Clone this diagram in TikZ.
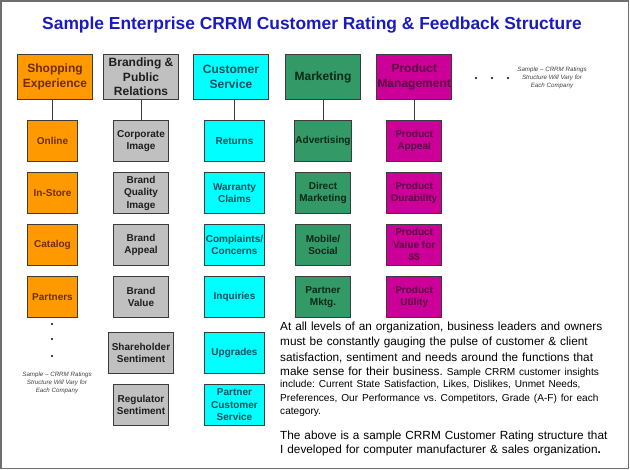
\documentclass[tikz,border=0pt]{standalone}
\usepackage{fontspec}
\setmainfont{Liberation Sans}
\usetikzlibrary{positioning}
\definecolor{titleblue}{RGB}{26,26,196}
\definecolor{edge}{RGB}{60,60,60}
\definecolor{framegray}{RGB}{110,110,110}
\definecolor{shopfill}{RGB}{255,153,0}
\definecolor{shoptext}{RGB}{110,45,0}
\definecolor{brandfill}{RGB}{192,192,192}
\definecolor{brandtext}{RGB}{30,30,30}
\definecolor{servfill}{RGB}{0,255,255}
\definecolor{servtext}{RGB}{0,80,90}
\definecolor{mktgfill}{RGB}{51,153,102}
\definecolor{mktgtext}{RGB}{10,40,25}
\definecolor{prodfill}{RGB}{204,0,153}
\definecolor{prodtext}{RGB}{90,0,65}

\begin{document}
\begin{tikzpicture}[x=1pt,y=-1pt]
	% Define styles
	\tikzset{
		head/.style={rectangle, draw=edge, line width=1pt, minimum width=75pt, minimum height=45pt, inner sep=1pt, align=center, font=\fontsize{12}{14.5}\selectfont\bfseries},
		item/.style={rectangle, draw=edge, line width=1pt, minimum width=55pt, minimum height=41pt, inner sep=1pt, align=center, font=\fontsize{10}{12.5}\selectfont\bfseries},
		note/.style={align=center, text=black!75, font=\fontsize{6.2}{8}\selectfont\itshape},
		link/.style={draw=edge, line width=1pt},
		shopbox/.style={fill=shopfill, text=shoptext},
		brandbox/.style={fill=brandfill, text=brandtext},
		servbox/.style={fill=servfill, text=servtext},
		mktgbox/.style={fill=mktgfill, text=mktgtext},
		prodbox/.style={fill=prodfill, text=prodtext}
	}
	\useasboundingbox (0,0) rectangle (630,470);
	\draw[framegray, line width=1.5pt] (1,1) rectangle (628.5,468.5);

	% Title
	\node[anchor=base, text=titleblue, font=\fontsize{17.4}{20}\selectfont\bfseries] (title) at (312,30) {Sample Enterprise CRRM Customer Rating \& Feedback Structure};

	% Headers
	\node[head, shopbox] (shop) at (55,77) {Shopping\\Experience};
	\node[head, brandbox, right=10pt of shop] (brand) {Branding \&\\Public\\Relations};
	\node[head, servbox, right=14pt of brand] (cserv) {Customer\\Service};
	\node[head, mktgbox, right=16pt of cserv] (mktg) {Marketing};
	\node[head, prodbox, right=15pt of mktg] (prodm) {Product\\Management};

	\foreach \x in {476,492,508} \fill (\x,78) circle (1.2pt);
	\node[note] (sidenote) at (552,78) {Sample – CRRM Ratings\\Structure Will Vary for\\Each Company};

	% Shopping Experience
	\node[item, shopbox, minimum width=50pt, below=20pt of shop, xshift=-2.5pt] (online) {Online};
	\node[item, shopbox, minimum width=50pt, below=10pt of online] (instore) {In-Store};
	\node[item, shopbox, minimum width=50pt, below=10pt of instore] (catalog) {Catalog};
	\node[item, shopbox, minimum width=50pt, below=10pt of catalog] (partners) {Partners};
	\foreach \y in {324,339,356} \fill (52,\y) circle (1.1pt);
	\node[note] (leftnote) at (57,383) {Sample – CRRM Ratings\\Structure Will Vary for\\Each Company};

	% Branding & Public Relations
	\node[item, brandbox, below=20pt of brand] (corpimg) {Corporate\\Image};
	\node[item, brandbox, below=10pt of corpimg] (qualimg) {Brand\\Quality\\Image};
	\node[item, brandbox, below=10pt of qualimg] (appeal) {Brand\\Appeal};
	\node[item, brandbox, below=10pt of appeal] (value) {Brand\\Value};
	\node[item, brandbox, minimum width=65pt, below=14pt of value] (holder) {Shareholder\\Sentiment};
	\node[item, brandbox, below=10pt of holder] (regulator) {Regulator\\Sentiment};

	% Customer Service
	\node[item, servbox, minimum width=60pt, below=20pt of cserv, xshift=3.5pt] (returns) {Returns};
	\node[item, servbox, minimum width=60pt, below=10pt of returns] (warranty) {Warranty\\Claims};
	\node[item, servbox, minimum width=60pt, below=10pt of warranty] (complaints) {Complaints/\\Concerns};
	\node[item, servbox, minimum width=60pt, below=10pt of complaints] (inquiries) {Inquiries};
	\node[item, servbox, minimum width=60pt, below=14pt of inquiries] (upgrades) {Upgrades};
	\node[item, servbox, minimum width=60pt, below=10pt of upgrades] (partnersvc) {Partner\\Customer\\Service};

	% Marketing
	\node[item, mktgbox, below=20pt of mktg] (advert) {Advertising};
	\node[item, mktgbox, below=10pt of advert] (direct) {Direct\\Marketing};
	\node[item, mktgbox, below=10pt of direct] (mobile) {Mobile/\\Social};
	\node[item, mktgbox, below=10pt of mobile] (partnermk) {Partner\\Mktg.};

	% Product Management
	\node[item, prodbox, below=20pt of prodm] (pappeal) {Product\\Appeal};
	\node[item, prodbox, below=10pt of pappeal] (pdurable) {Product\\Durability};
	\node[item, prodbox, below=10pt of pdurable] (pvalue) {Product\\Value for\\\$\$};
	\node[item, prodbox, below=10pt of pvalue] (putility) {Product\\Utility};

	% Links
	\draw[link] (online.north |- shop.south) -- (online.north);
	\draw[link] (corpimg.north |- brand.south) -- (corpimg.north);
	\draw[link] (returns.north |- cserv.south) -- (returns.north);
	\draw[link] (advert.north |- mktg.south) -- (advert.north);
	\draw[link] (pappeal.north |- prodm.south) -- (pappeal.north);

	% Text
	\node[anchor=north west, inner sep=0pt, text width=345pt, align=left, font=\fontsize{11.8}{14.5}\selectfont\frenchspacing] (insight) at (280,321.5) {At all levels of an organization, business leaders and owners\\[1pt]
		must be constantly gauging the pulse of customer \& client\\[1pt]
		satisfaction, sentiment and needs around the functions that\\[1pt]
		make sense for their business. {\fontsize{10.1}{13.5}\selectfont Sample CRRM customer insights\\[-1.5pt]
		include: Current State Satisfaction, Likes, Dislikes, Unmet Needs,\\
		Preferences, Our Performance vs. Competitors, Grade (A-F) for each\\
		category.\par}};
	\node[anchor=north west, inner sep=0pt, text width=345pt, align=left, font=\fontsize{11.8}{14.5}\selectfont\frenchspacing] (remark) at (280,430.5) {The above is a sample CRRM Customer Rating structure that\\
		I developed for computer manufacturer \& sales organization\textbf{.}};
\end{tikzpicture}
\end{document}
